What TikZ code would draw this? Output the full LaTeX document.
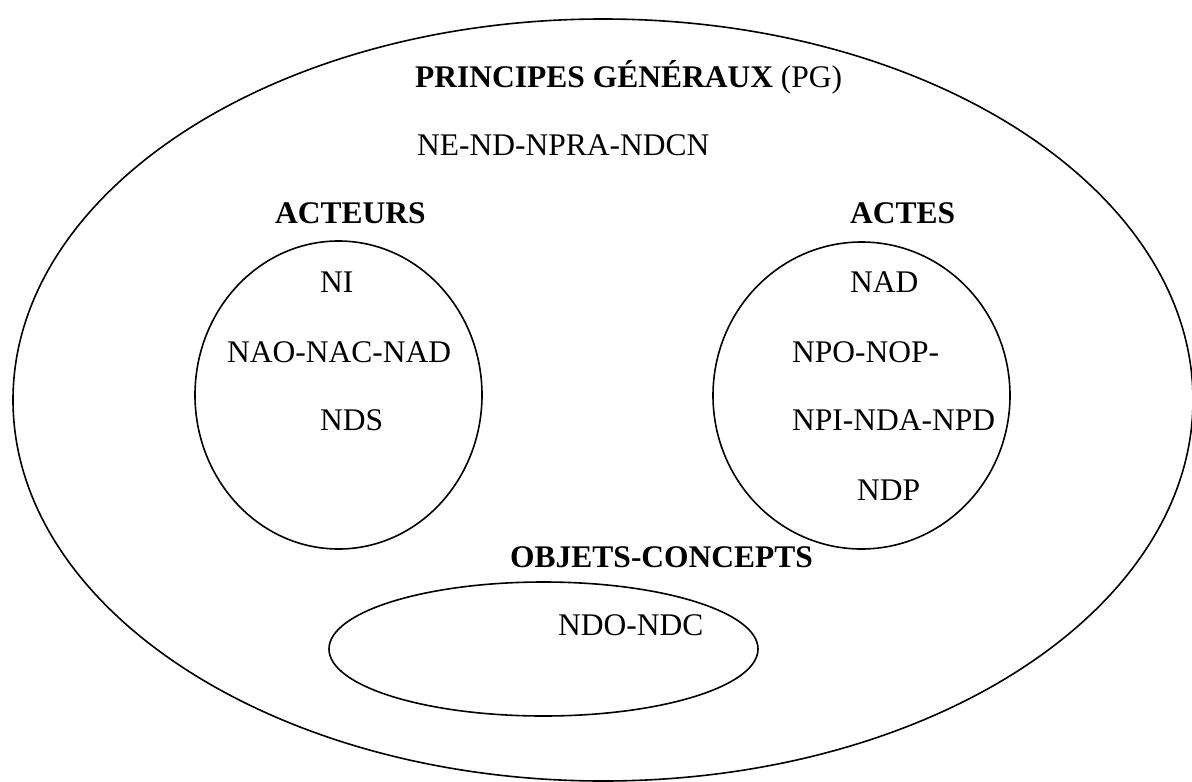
\documentclass[tikz,border=0pt]{standalone}
\usepackage{fontspec}
\setmainfont{Liberation Serif}
\usetikzlibrary{shapes.geometric}
\begin{document}
\begin{tikzpicture}[x=1pt,y=-1pt,
  zone/.style={draw=black, line width=1.6pt, ellipse, inner sep=0pt},
  lbl/.style={inner sep=0pt, anchor=base west, font=\fontsize{31.5}{38}\selectfont},
  ttl/.style={lbl, font=\fontsize{31.5}{38}\selectfont\bfseries}]
\useasboundingbox (0,0) rectangle (1192,782);
\node[zone, minimum width=1180pt, minimum height=762pt] (pg) at (603,400) {};
\node[zone, minimum width=287pt, minimum height=308pt] (acteurs) at (338.5,395) {};
\node[zone, minimum width=297pt, minimum height=307pt] (actes) at (861.5,395.5) {};
\node[zone, minimum width=429pt, minimum height=134pt] (objets) at (543.5,649) {};
\node[lbl] (t1) at (415,87) {\textbf{PRINCIPES GÉNÉRAUX} (PG)};
\node[lbl] (t2) at (417,155) {NE-ND-NPRA-NDCN};
\node[ttl] (t3) at (275,223) {ACTEURS};
\node[ttl] (t4) at (850,223) {ACTES};
\node[lbl] (t5) at (320,292) {NI};
\node[lbl] (t6) at (227,362) {NAO-NAC-NAD};
\node[lbl] (t7) at (320,430) {NDS};
\node[lbl] (t8) at (850,292) {NAD};
\node[lbl] (t9) at (792,362) {NPO-NOP-};
\node[lbl] (t10) at (792,430) {NPI-NDA-NPD};
\node[lbl] (t11) at (857,500) {NDP};
\node[ttl] (t12) at (510,567) {OBJETS-CONCEPTS};
\node[lbl] (t13) at (558,635) {NDO-NDC};
\end{tikzpicture}
\end{document}
